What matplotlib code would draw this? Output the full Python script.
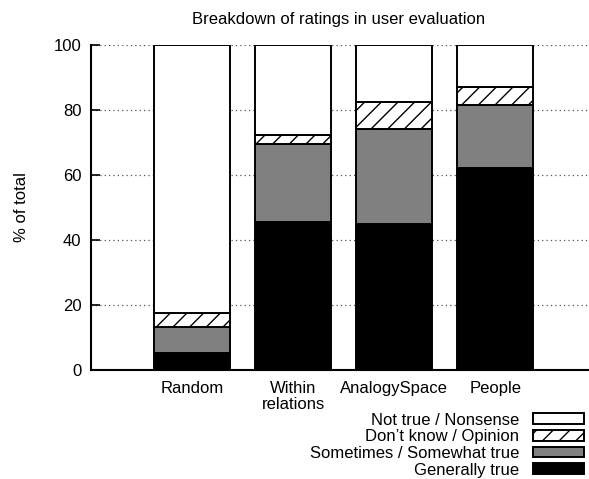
import numpy as np
import matplotlib
matplotlib.use("Agg")
import matplotlib.pyplot as plt
from matplotlib.patches import Patch

plt.rcParams['font.family'] = ['Liberation Sans', 'DejaVu Sans']
plt.rcParams['font.size'] = 12
plt.rcParams['hatch.linewidth'] = 1.0

systems = ['Random', 'Within\nrelations', 'AnalogySpace', 'People']
generally = [5.1, 45.6, 44.8, 62.2]
sometimes = [8.0, 24.0, 29.5, 19.3]
dont_know = [4.5, 2.7, 8.2, 5.5]
not_true = [82.4, 27.7, 17.5, 13.0]

fig = plt.figure(figsize=(5.89, 4.79), dpi=100)
ax = fig.add_axes([0.1545, 0.2276, 0.858, 0.6785])

x = np.arange(len(systems))
w = 0.75
ec = dict(edgecolor='black', linewidth=1.4, zorder=3)

b0 = np.zeros(len(systems))
ax.bar(x, generally, w, bottom=b0, color='black', **ec)
b1 = b0 + generally
ax.bar(x, sometimes, w, bottom=b1, color='#808080', **ec)
b2 = b1 + sometimes
ax.bar(x, dont_know, w, bottom=b2, color='white', hatch='//', **ec)
b3 = b2 + dont_know
ax.bar(x, not_true, w, bottom=b3, color='white', **ec)

ax.set_xlim(-1, 4)
ax.set_ylim(0, 100)
ax.set_yticks([0, 20, 40, 60, 80, 100])
ax.set_xticks(x)
ax.set_xticklabels(systems, linespacing=1.05)
ax.tick_params(axis='x', length=0, pad=8)
ax.tick_params(axis='y', direction='in', length=6.5, width=1.2, pad=7)
ax.yaxis.grid(True, linestyle=(0, (1, 2.5)), color='#555555', linewidth=0.9, zorder=0)
ax.set_axisbelow(True)
ax.spines['top'].set_visible(False)
ax.spines['right'].set_visible(False)
ax.spines['left'].set_linewidth(1.5)
ax.spines['bottom'].set_linewidth(1.5)

ax.set_ylabel('% of total', labelpad=18)
ax.set_title('Breakdown of ratings in user evaluation', fontsize=12, pad=15, x=0.49)

handles = [
    Patch(facecolor='white', edgecolor='black', linewidth=1.4, label='Not true / Nonsense'),
    Patch(facecolor='white', edgecolor='black', linewidth=1.4, hatch='//', label="Don\u2019t know / Opinion"),
    Patch(facecolor='#808080', edgecolor='black', linewidth=1.4, label='Sometimes / Somewhat true'),
    Patch(facecolor='black', edgecolor='black', linewidth=1.4, label='Generally true'),
]
fig.legend(handles=handles, loc='upper right', bbox_to_anchor=(1.012, 0.163),
           frameon=False, markerfirst=False, handlelength=3.1, handleheight=0.6,
           labelspacing=0.1, handletextpad=0.8, borderpad=0.2)

fig.savefig('out.png', dpi=100)
